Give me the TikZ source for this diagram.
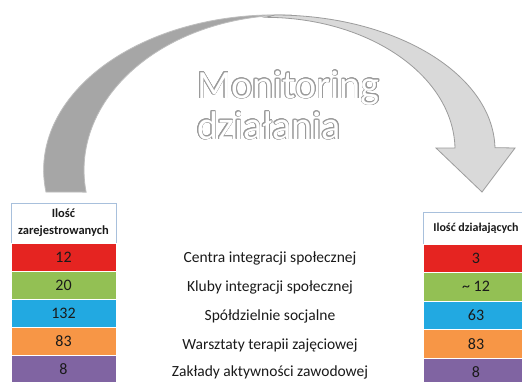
\documentclass[tikz,border=0pt]{standalone}
\usepackage{fontspec}
\setmainfont{Carlito}
\usepackage[copies]{contour}
\contourlength{0.7pt}

\definecolor{backgray}{HTML}{A6A6A6}
\definecolor{backedge}{HTML}{BDBDBD}
\definecolor{frontgray}{HTML}{D9D9D9}
\definecolor{frontedge}{HTML}{9C9C9C}
\definecolor{titleedge}{HTML}{9A9A9A}
\definecolor{headblue}{HTML}{A8C0DC}
\definecolor{cellred}{HTML}{E52421}
\definecolor{cellgreen}{HTML}{93C054}
\definecolor{cellblue}{HTML}{22A9E1}
\definecolor{cellorange}{HTML}{F79646}
\definecolor{cellpurple}{HTML}{8064A2}
\definecolor{textdark}{HTML}{1A1A1A}

\begin{document}
\begin{tikzpicture}[x=1pt,y=-1pt]

        \clip (0,0) rectangle (522,381);
        \fill[white] (0,0) rectangle (522,381);

        % the arrow: back part, then front part
        \draw[fill=backgray, draw=backedge, line width=0.8pt]
          (46,192) arc[start angle=171.8, end angle=273.7, x radius=231, y radius=155]
          -- (290,15) arc[start angle=270, end angle=171.8, x radius=206, y radius=155] -- cycle;
        \draw[fill=frontgray, draw=frontedge, line width=0.8pt]
          (275,15) arc[start angle=270, end angle=359, x radius=220, y radius=135]
          -- (515,148) -- (482,192) -- (436,148) -- (455,148)
          arc[start angle=359, end angle=270, x radius=190, y radius=133] -- cycle;

        \begin{scope}[every node/.style={anchor=base west, text=white, inner sep=0pt, font=\fontsize{40}{48}\selectfont}]
          \node (title1) at (197,98)  {\contour{titleedge}{Monitoring}};
          \node (title2) at (197,139) {\contour{titleedge}{działania}};
        \end{scope}

        % left table
        \node[fill=white, draw=headblue, line width=0.6pt, minimum width=105pt, minimum height=40pt,
              inner sep=0pt, align=center, text=textdark, font=\bfseries\fontsize{12.5}{17}\selectfont]
              (lhead) at (63.5,223) {Ilość\\zarejestrowanych};
        \begin{scope}[every node/.style={minimum width=105pt, minimum height=28pt, inner sep=0pt,
                      draw=white, line width=0.5pt, text=textdark, font=\fontsize{16}{19}\selectfont}]
          \node[fill=cellred]    (l1) at (63.5,257) {12};
          \node[fill=cellgreen]  (l2) at (63.5,285) {20};
          \node[fill=cellblue]   (l3) at (63.5,313) {132};
          \node[fill=cellorange] (l4) at (63.5,341) {83};
          \node[fill=cellpurple] (l5) at (63.5,369) {8};
        \end{scope}

        % right table
        \node[fill=white, draw=headblue, line width=0.6pt, minimum width=106pt, minimum height=32pt,
              inner sep=0pt, text=textdark, font=\bfseries\fontsize{12}{15}\selectfont]
              (rhead) at (476,228) {Ilość działających};
        \begin{scope}[every node/.style={minimum width=106pt, minimum height=28.5pt, inner sep=0pt,
                      draw=white, line width=0.5pt, text=textdark, font=\fontsize{16}{19}\selectfont}]
          \node[fill=cellred]    (r1) at (476,258.25) {3};
          \node[fill=cellgreen]  (r2) at (476,286.75) {\textasciitilde\ 12};
          \node[fill=cellblue]   (r3) at (476,315.25) {63};
          \node[fill=cellorange] (r4) at (476,343.75) {83};
          \node[fill=cellpurple] (r5) at (476,372.25) {8};
        \end{scope}

        % names in the middle
        \begin{scope}[every node/.style={anchor=base, inner sep=0pt, text=textdark, font=\fontsize{15.5}{18}\selectfont}]
          \node (m1) at (270,262) {Centra integracji społecznej};
          \node (m2) at (270,291) {Kluby integracji społecznej};
          \node (m3) at (270,320) {Spółdzielnie socjalne};
          \node (m4) at (270,349) {Warsztaty terapii zajęciowej};
          \node (m5) at (270,376) {Zakłady aktywności zawodowej};
        \end{scope}

      \end{tikzpicture}
\end{document}
